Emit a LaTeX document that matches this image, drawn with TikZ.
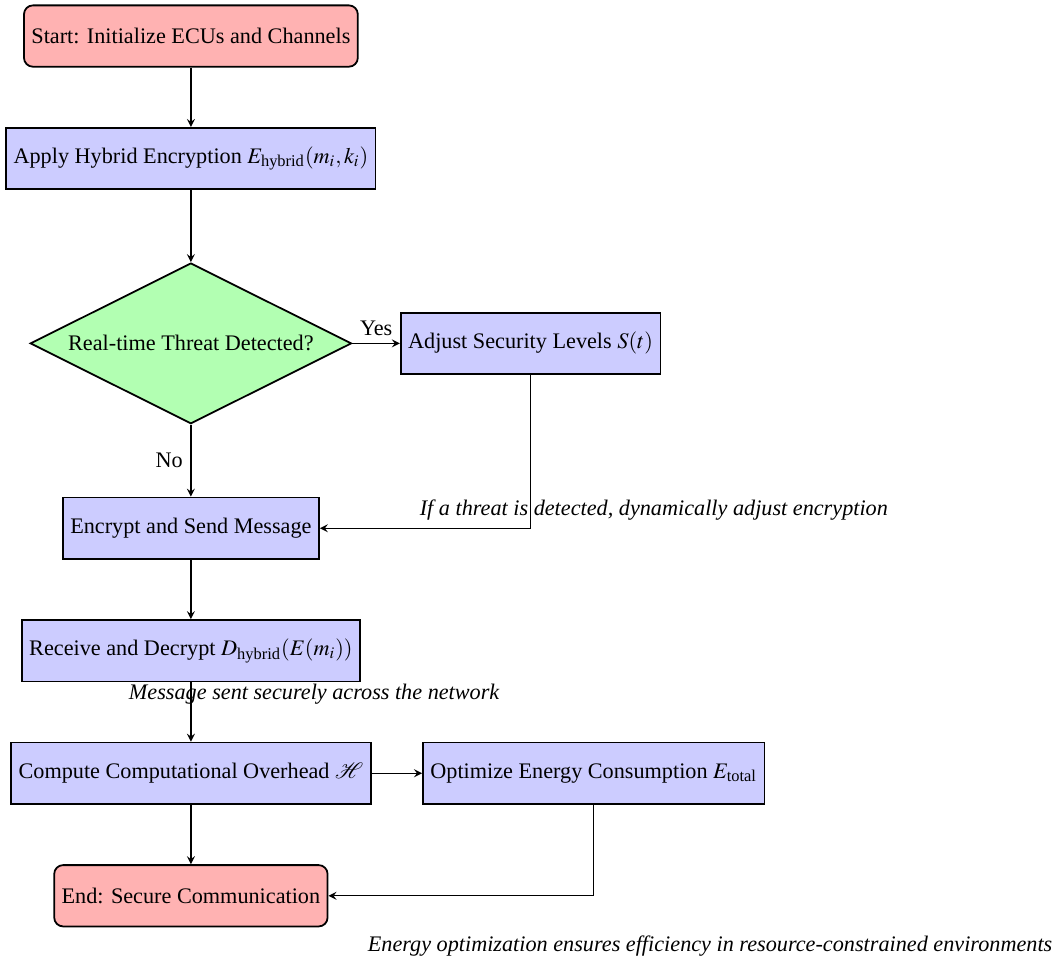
\documentclass[tikz,border=0pt]{standalone}
\usepackage{mathptmx}
\usepackage[no-math]{fontspec}
\setmainfont{Liberation Serif}
\usepackage{amsmath}
\usetikzlibrary{shapes.geometric,positioning}
\tikzset{% change default arrow tips
    >=stealth
}

\begin{document}
\begin{tikzpicture}[
    node distance=0.94cm,
    startstop/.style={rectangle, rounded corners, draw, thick, fill=red!30, minimum height=0.97cm},
    process/.style={rectangle, draw, thick, fill=blue!20, minimum height=0.97cm},
    decision/.style={diamond, aspect=2, draw, thick, fill=green!30},
    arrow/.style={->, semithick},
    note/.style={font=\itshape}
    ]
    \newcommand{\noteshift}{1.95cm}

    % frame
    \useasboundingbox (-3.02,0.57) rectangle (13.67,-14.57);

    % steps
    \node[startstop] (start) at (0,0) {Start: Initialize ECUs and Channels};
    \node[process, below=of start] (hybrid) {Apply Hybrid Encryption $E_{\text{hybrid}}(m_i, k_i)$};
    \node[decision, below=1.14cm of hybrid] (threat) {Real-time Threat Detected?};
    \node[process, right=0.75cm of threat] (adjust) {Adjust Security Levels $S(t)$};
    \node[process, below=1.14cm of threat] (send) {Encrypt and Send Message};
    \node[process, below=of send] (decrypt) {Receive and Decrypt $D_{\text{hybrid}}(E(m_i))$};
    \node[process, below=of decrypt] (overhead) {Compute Computational Overhead $\mathcal{H}$};
    \node[process, right=0.8cm of overhead] (energy) {Optimize Energy Consumption $E_{\text{total}}$};
    \node[startstop, below=of overhead] (stop) {End: Secure Communication};

    % connectors
    \draw[arrow] (start) -- (hybrid);
    \draw[arrow] (hybrid) -- (threat);
    \draw[arrow] (threat) -- node[above] {Yes} (adjust);
    \draw[arrow] (threat) -- node[left] {No} (send);
    \draw[arrow] (adjust.south) |- node[note, pos=0.5, above, xshift=\noteshift] {If a threat is detected, dynamically adjust encryption} (send.east);
    \draw[arrow] (send) -- (decrypt);
    \draw[arrow] (decrypt) -- node[note, above, xshift=\noteshift] {Message sent securely across the network} (overhead);
    \draw[arrow] (overhead) -- (energy);
    \draw[arrow] (overhead) -- (stop);
    \draw[arrow] (energy.south) |- node[note, pos=0.5, below, xshift=1.84cm, yshift=-0.5cm] {Energy optimization ensures efficiency in resource-constrained environments} (stop.east);

\end{tikzpicture}
\end{document}
